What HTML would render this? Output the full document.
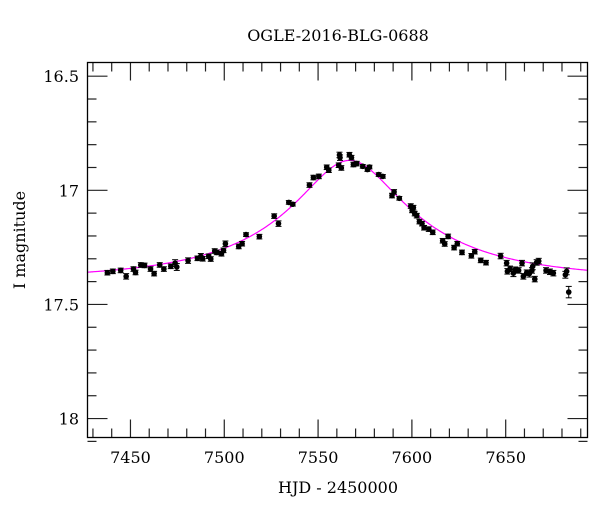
<!DOCTYPE html>
<html><head><meta charset="utf-8"><style>
body{margin:0;background:#fff;}
svg text{font-family:"DejaVu Serif","Liberation Serif",serif;fill:#000;}
</style></head><body>
<svg id="chart" width="600" height="512" viewBox="0 0 600 512" xmlns="http://www.w3.org/2000/svg">
<text x="338" y="41" font-size="16" text-anchor="middle">OGLE-2016-BLG-0688</text>
<text x="338" y="493" font-size="16" text-anchor="middle">HJD - 2450000</text>
<text transform="translate(25,240) rotate(-90)" font-size="16" text-anchor="middle">I magnitude</text>
<g id="ticks"></g><g id="curve"></g><g id="pts"></g>
<rect x="87.5" y="62.5" width="500" height="375" fill="none" stroke="#000" stroke-width="1.3"/>
</svg>
<script>
const hjd=[7437.7,7440.6,7444.8,7447.7,7451.6,7452.7,7455.5,7457.5,7460.7,7462.6,7465.6,7467.8,7471.5,7473.8,7474.7,7480.7,7485.7,7487.5,7488.5,7491.7,7492.8,7494.9,7496.0,7498.5,7499.6,7500.6,7507.7,7509.5,7511.6,7518.7,7526.6,7528.9,7534.4,7536.5,7545.4,7547.5,7550.4,7554.6,7555.7,7561.4,7561.7,7561.0,7562.4,7566.7,7567.8,7568.8,7570.6,7573.8,7576.3,7577.4,7582.3,7584.5,7589.4,7590.5,7593.3,7599.4,7600.1,7600.8,7601.5,7602.6,7604.0,7605.4,7606.5,7609.0,7611.1,7616.4,7617.5,7619.3,7622.5,7624.2,7626.7,7631.7,7633.5,7636.7,7639.5,7647.3,7650.5,7650.9,7652.3,7654.1,7655.1,7656.9,7658.7,7659.4,7661.2,7662.6,7664.0,7664.4,7665.5,7666.5,7667.6,7671.5,7673.6,7675.4,7681.8,7682.5,7683.6];
const imag=[17.361,17.355,17.351,17.377,17.345,17.360,17.327,17.329,17.345,17.365,17.327,17.345,17.333,17.319,17.336,17.308,17.298,17.289,17.300,17.289,17.301,17.266,17.272,17.278,17.263,17.234,17.246,17.234,17.194,17.203,17.113,17.146,17.053,17.061,16.977,16.944,16.939,16.899,16.912,16.845,16.857,16.890,16.902,16.844,16.857,16.887,16.883,16.895,16.909,16.898,16.931,16.939,17.023,17.007,17.035,17.069,17.088,17.076,17.102,17.111,17.137,17.146,17.164,17.170,17.184,17.221,17.235,17.202,17.251,17.234,17.272,17.287,17.269,17.307,17.317,17.288,17.319,17.355,17.344,17.363,17.348,17.351,17.319,17.377,17.361,17.365,17.351,17.333,17.389,17.316,17.310,17.351,17.357,17.363,17.370,17.355,17.446];
const ierr=[0.01,0.01,0.01,0.012,0.01,0.01,0.01,0.01,0.01,0.01,0.01,0.01,0.01,0.015,0.015,0.012,0.01,0.012,0.01,0.01,0.01,0.01,0.01,0.01,0.01,0.012,0.01,0.01,0.008,0.01,0.01,0.012,0.008,0.008,0.01,0.01,0.01,0.01,0.01,0.012,0.012,0.01,0.01,0.01,0.01,0.01,0.01,0.008,0.008,0.008,0.008,0.008,0.01,0.01,0.008,0.01,0.01,0.01,0.01,0.01,0.01,0.01,0.01,0.01,0.01,0.01,0.01,0.01,0.01,0.01,0.01,0.01,0.01,0.01,0.01,0.012,0.012,0.012,0.012,0.015,0.012,0.012,0.012,0.012,0.012,0.015,0.012,0.015,0.012,0.012,0.012,0.012,0.012,0.012,0.015,0.015,0.025];
const xTicks=[7450,7500,7550,7600,7650];
const yTicks=[16.5,17,17.5,18];
const yTickLabels=["16.5","17","17.5","18"];
const modelT0=[7566.8];
const modelU0=[0.3];
const modelTE=[90];
const modelFs=[0.252];
const modelBase=[17.39];

const X0=87.5,X1=587.5,Y0=62.5,Y1=437.5;
const tMin=7427.1,tMax=7693.6,mMin=16.44,mMax=18.083;
const sx=t=>X0+(t-tMin)/(tMax-tMin)*(X1-X0);
const sy=m=>Y0+(m-mMin)/(mMax-mMin)*(Y1-Y0);
const NS="http://www.w3.org/2000/svg";
function mk(tag,attrs,parent){const e=document.createElementNS(NS,tag);for(const k in attrs)e.setAttribute(k,attrs[k]);parent.appendChild(e);return e;}
const tg=document.getElementById('ticks');
for(let t=7430;t<=7690;t+=10){
  const maj=t%50===0, L=maj?18:9, x=sx(t);
  const a=mk('line',{x1:x,x2:x,y1:Y1,y2:Y1-L,stroke:'#222','stroke-width':1.2},tg);
  
  
  const b=mk('line',{x1:x,x2:x,y1:Y0,y2:Y0+L,stroke:'#222','stroke-width':1.2},tg);
  
  
}
xTicks.forEach(t=>{
  const e=mk('text',{x:sx(t),y:463,'font-size':16,'text-anchor':'middle'},tg);
  e.textContent=t;
  
  
});
for(let i=0;i<=16;i++){
  const m=16.5+i*0.1, maj=i%5===0, L=maj?20:9, y=sy(m);
  const a=mk('line',{x1:X0,x2:X0+L,y1:y,y2:y,stroke:'#222','stroke-width':1.2},tg);
  
  
  const b=mk('line',{x1:X1,x2:X1-L,y1:y,y2:y,stroke:'#222','stroke-width':1.2},tg);
  
  
}
yTicks.forEach((m,i)=>{
  const e=mk('text',{x:79,y:sy(m)+6,'font-size':16,'text-anchor':'end'},tg);
  e.textContent=yTickLabels[i];
  
  
});
function model(t){
  const tau=(t-modelT0[0])/modelTE[0], u=Math.sqrt(tau*tau+modelU0[0]*modelU0[0]);
  const A=(u*u+2)/(u*Math.sqrt(u*u+4));
  return modelBase[0]-2.5*Math.log10(modelFs[0]*A+1-modelFs[0]);
}
let d='';
for(let t=tMin;t<=tMax;t+=0.5){d+=(d?'L':'M')+sx(t).toFixed(2)+','+sy(model(t)).toFixed(2);}
const cv=mk('path',{d:d,fill:'none',stroke:'#ff00ff','stroke-width':1.2},document.getElementById('curve'));


const pg=document.getElementById('pts');
hjd.forEach((t,i)=>{
  const x=sx(t),y=sy(imag[i]),y1=sy(imag[i]-ierr[i]),y2=sy(imag[i]+ierr[i]);
  const g=mk('g',{},pg);
  
  
  mk('line',{x1:x,x2:x,y1:y1,y2:y2,stroke:'#000','stroke-width':1},g);
  mk('line',{x1:x-3,x2:x+3,y1:y1,y2:y1,stroke:'#000','stroke-width':1},g);
  mk('line',{x1:x-3,x2:x+3,y1:y2,y2:y2,stroke:'#000','stroke-width':1},g);
  mk('circle',{cx:x,cy:y,r:2.8,fill:'#000'},g);
});
</script>
</body></html>
